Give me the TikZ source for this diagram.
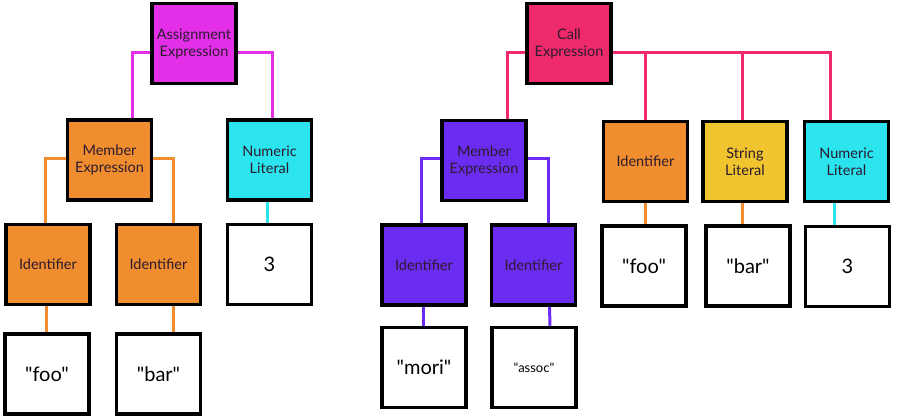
\documentclass[tikz,border=0pt]{standalone}
\usepackage{fontspec}
\setmainfont{Lato}[Ligatures=TeXOff]
\usetikzlibrary{positioning, backgrounds}
\definecolor{asgmag}{HTML}{E42FE8}
\definecolor{callred}{HTML}{EF2A6B}
\definecolor{memorange}{HTML}{F08D2F}
\definecolor{memviolet}{HTML}{6A2CF0}
\definecolor{numcyan}{HTML}{2CE4EE}
\definecolor{stryellow}{HTML}{F0C42F}
\definecolor{inkdark}{HTML}{2B1B2E}

\begin{document}
\begin{tikzpicture}[x=1pt, y=-1pt,
  astbox/.style={draw=black, line width=3.5pt, minimum width=84pt, minimum height=80pt,
    inner sep=0pt, align=center, text=inkdark, font=\fontsize{14.5}{17}\selectfont},
  litbox/.style={astbox, fill=white, text=black, font=\fontsize{20}{22}\selectfont},
  link/.style={line width=3pt}]

\useasboundingbox (0,0) rectangle (897,418);

% --- Left tree: assignment ---
\node[astbox, fill=asgmag] (assign) at (194,43.5) {Assignment\\Expression};
\node[astbox, fill=memorange] (memA) at (109.5,160) {Member\\Expression};
\node[astbox, fill=numcyan] (numA) at (269.5,160) {Numeric\\Literal};
\node[astbox, fill=memorange] (idA1) at (48,264.5) {Identifier};
\node[astbox, fill=memorange] (idA2) at (158.5,264.5) {Identifier};
\node[litbox] (lit3A) at (269.5,264.5) {3};
\node[litbox] (fooA) at (47,374) {"foo"};
\node[litbox] (barA) at (158.5,374) {"bar"};

% --- Right tree: call ---
\node[astbox, fill=callred] (call) at (569,43.5) {Call\\Expression};
\node[astbox, fill=memviolet] (memB) at (484,160.5) {Member\\Expression};
\node[astbox, fill=memorange] (idB) at (645.5,161.5) {Identifier};
\node[astbox, fill=stryellow] (strB) at (745,161.5) {String\\Literal};
\node[astbox, fill=numcyan] (numB) at (846.5,161.5) {Numeric\\Literal};
\node[astbox, fill=memviolet] (idB1) at (424,265) {Identifier};
\node[astbox, fill=memviolet] (idB2) at (533.5,265) {Identifier};
\node[litbox] (fooB) at (644,266) {"foo"};
\node[litbox] (barB) at (748,266) {"bar"};
\node[litbox] (lit3B) at (847.5,266.5) {3};
\node[litbox] (moriB) at (424,367.5) {"mori"};
\node[litbox, font=\fontsize{13}{15}\selectfont] (assocB) at (534,367.5) {"assoc"};

% connectors sit behind the boxes
\begin{scope}[on background layer]
  \draw[link, asgmag] ([yshift=-8.5pt]assign.west) -| ([xshift=22.5pt]memA.north);
  \draw[link, asgmag] ([yshift=-8.5pt]assign.east) -| ([xshift=2.5pt]numA.north);
  \draw[link, memorange] ([yshift=2pt]memA.west) -| ([xshift=-3pt]idA1.north);
  \draw[link, memorange] ([yshift=2pt]memA.east) -| ([xshift=14.5pt]idA2.north);
  \draw[link, memorange] ([xshift=-2pt]idA1.south) -- ([xshift=-1pt]fooA.north);
  \draw[link, memorange] ([xshift=14.5pt]idA2.south) -- ([xshift=14.5pt]barA.north);
  \draw[link, numcyan] ([xshift=-2.5pt]numA.south) -- ([xshift=-2.5pt]lit3A.north);

  \coordinate (callbar) at ([yshift=-8.5pt]call.east);
  \draw[link, callred] ([yshift=-8.5pt]call.west) -| ([xshift=23pt]memB.north);
  \draw[link, callred] (callbar) -| ([xshift=-16.5pt]numB.north);
  \draw[link, callred] (idB.north) -- (idB.north |- callbar);
  \draw[link, callred] ([xshift=-3pt]strB.north) -- ([xshift=-3pt]strB.north |- callbar);
  \draw[link, memviolet] ([yshift=2.5pt]memB.west) -| ([xshift=-3pt]idB1.north);
  \draw[link, memviolet] ([yshift=2.5pt]memB.east) -| ([xshift=14.5pt]idB2.north);
  \draw[link, memviolet] ([xshift=-1pt]idB1.south) -- ([xshift=-1pt]moriB.north);
  \draw[link, memviolet] ([xshift=16pt]idB2.south) -- ([xshift=16pt]assocB.north);
  \draw[link, memorange] (idB.south) -- (idB.south |- fooB.north);
  \draw[link, memorange] ([xshift=-3pt]strB.south) -- ([xshift=-3pt]strB.south |- barB.north);
  \draw[link, numcyan] ([xshift=-12.5pt]numB.south) -- ([xshift=-12.5pt]numB.south |- lit3B.north);
\end{scope}

\end{tikzpicture}
\end{document}
